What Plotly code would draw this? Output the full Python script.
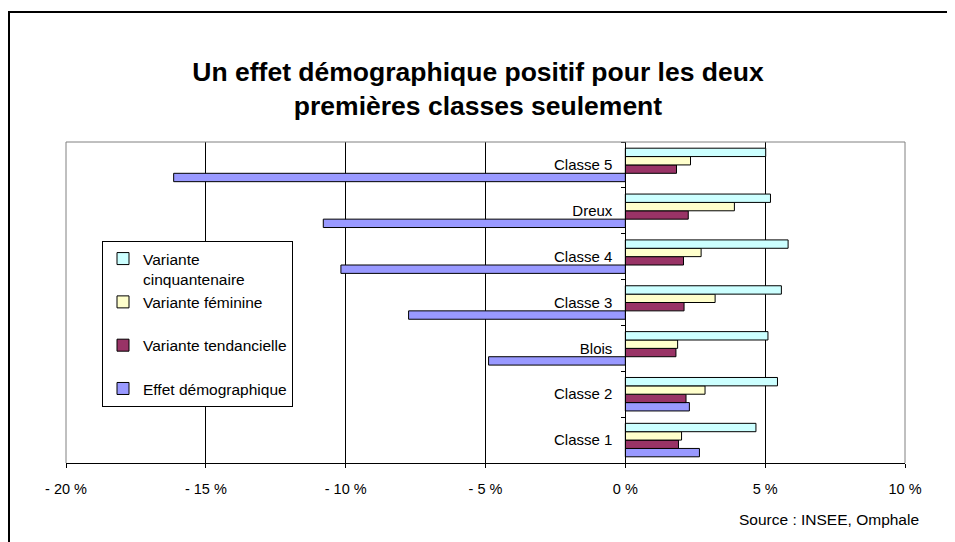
import plotly.graph_objects as go

categories = ["Classe 1", "Classe 2", "Blois", "Classe 3", "Classe 4", "Dreux", "Classe 5"]
effet_demo = [2.65, 2.29, -4.89, -7.75, -10.17, -10.80, -16.15]
var_tendancielle = [1.90, 2.17, 1.81, 2.10, 2.08, 2.25, 1.83]
var_feminine = [2.01, 2.85, 1.87, 3.21, 2.71, 3.90, 2.33]
var_cinquantenaire = [4.67, 5.44, 5.10, 5.58, 5.82, 5.19, 5.02]

x_ticks = [-20, -15, -10, -5, 0, 5, 10]
x_tick_labels = ["- 20 %", "- 15 %", "- 10 %", "- 5 %", "0 %", "5 %", "10 %"]

FONT = "Liberation Sans, Arial, sans-serif"

series = [
    ("Effet démographique", effet_demo, "#9999FF"),
    ("Variante tendancielle<br> ", var_tendancielle, "#993366"),
    ("Variante féminine<br> ", var_feminine, "#FFFFCC"),
    ("Variante<br>cinquantenaire", var_cinquantenaire, "#CCFFFF"),
]

fig = go.Figure()
for name, vals, color in series:
    fig.add_trace(go.Bar(
        y=categories, x=vals, name=name, orientation="h",
        marker=dict(color=color, line=dict(color="black", width=1)),
    ))

# page body has an 8px margin: figure coords = screen coords - 8
OFF = 8
W, H = 947, 534
ml, mr, mt, mb = 58, 50, 134, 79
pw, ph = W - ml - mr, H - mt - mb

def px(xs):
    return (xs - OFF - ml) / pw

def py(ys):
    return (H - mb - (ys - OFF)) / ph

zero_pos = (0 - x_ticks[0]) / (x_ticks[-1] - x_ticks[0])

fig.update_layout(
    width=W, height=H,
    margin=dict(l=ml, r=mr, t=mt, b=mb),
    paper_bgcolor="white", plot_bgcolor="white",
    barmode="group", bargap=0.27, bargroupgap=0,
    font=dict(family=FONT, size=15, color="black"),
    title=dict(
        text="<b>Un effet démographique positif pour les deux<br>premières classes seulement</b>",
        font=dict(family=FONT, size=26.5, color="black"),
        x=(478 - OFF) / W, xref="container", xanchor="center",
        y=1 - (80.5 - OFF) / H, yref="container", yanchor="middle",
    ),
    xaxis=dict(
        range=[x_ticks[0], x_ticks[-1]],
        tickvals=x_ticks, ticktext=x_tick_labels,
        showgrid=True, gridcolor="black", gridwidth=1,
        zeroline=False,
        showline=True, linecolor="black", linewidth=1,
        ticks="outside", ticklen=4, tickcolor="black",
        ticklabelstandoff=9,
        tickfont=dict(size=14.5),
        fixedrange=True,
    ),
    yaxis=dict(
        anchor="free", position=zero_pos,
        showgrid=False, zeroline=False,
        showline=True, linecolor="black", linewidth=1,
        ticks="outside", ticklen=4, tickcolor="black",
        tickson="boundaries",
        ticklabelstandoff=10,
        tickfont=dict(size=15),
        fixedrange=True,
    ),
    legend=dict(
        x=px(102), y=py(241), xanchor="left", yanchor="top",
        bordercolor="black", borderwidth=1, bgcolor="white",
        traceorder="reversed", valign="top",
        font=dict(family=FONT, size=15.5),
        itemclick=False,
    ),
    showlegend=True,
)

# plot frame (gray) on left, top, right
fig.add_shape(type="path", xref="paper", yref="paper",
              path="M 0,0 L 0,1 L 1,1 L 1,0",
              line=dict(color="#808080", width=1), layer="above")
# outer chart border: left edge and top edge
fig.add_shape(type="line", xref="paper", yref="paper",
              x0=px(9), y0=py(560), x1=px(9), y1=py(11),
              line=dict(color="black", width=2), layer="above")
fig.add_shape(type="line", xref="paper", yref="paper",
              x0=px(8), y0=py(12), x1=px(955), y1=py(12),
              line=dict(color="black", width=2), layer="above")

fig.add_annotation(
    text="Source : INSEE, Omphale", xref="paper", yref="paper",
    x=px(921), y=py(520), xanchor="right", yanchor="middle",
    showarrow=False, font=dict(family=FONT, size=15.5, color="black"),
)

fig.write_html("out.html")
